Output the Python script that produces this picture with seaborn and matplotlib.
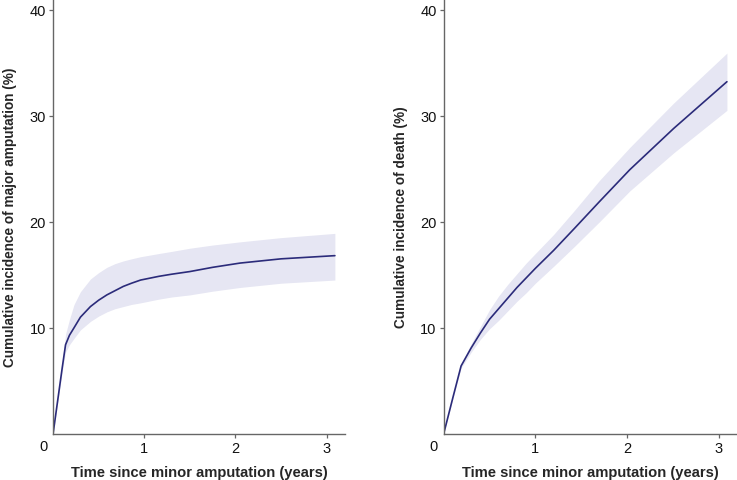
import numpy as np
import pandas as pd
import matplotlib
matplotlib.use('Agg')
import matplotlib.pyplot as plt
import seaborn as sns

# cumulative incidence of major amputation (left panel)
amp_years = [0, 0.05, 0.1, 0.137, 0.18, 0.23, 0.3, 0.41, 0.5, 0.59, 0.68, 0.77, 0.86, 0.96,
	1.16, 1.3, 1.5, 1.75, 2.05, 2.5, 3.09]
amp_est = [0, 3.1, 6.2, 8.4, 9.3, 10.0, 11.0, 12.0, 12.6, 13.1, 13.5, 13.9, 14.2, 14.5,
	14.85, 15.05, 15.3, 15.7, 16.1, 16.5, 16.8]
amp_upper = [0, 3.3, 6.7, 9.4, 10.8, 12.2, 13.4, 14.6, 15.2, 15.7, 16.05, 16.3, 16.5, 16.7,
	17.0, 17.2, 17.5, 17.8, 18.1, 18.5, 18.9]
amp_lower = [0, 2.9, 5.8, 7.7, 8.4, 9.0, 9.8, 10.6, 11.1, 11.5, 11.8, 12.0, 12.2, 12.35,
	12.7, 12.9, 13.1, 13.45, 13.8, 14.2, 14.5]

# cumulative incidence of death (right panel)
death_years = [0, 0.1, 0.19, 0.3, 0.4, 0.5, 0.6, 0.7, 0.8, 0.9, 1.0, 1.2, 1.43, 1.7, 2.03, 2.51, 3.09]
death_est = [0, 3.4, 6.4, 8.1, 9.5, 10.8, 11.8, 12.8, 13.8, 14.7, 15.6, 17.3, 19.4, 21.9, 24.9, 28.8, 33.2]
death_upper = [0, 3.5, 6.6, 8.5, 10.1, 11.7, 13.0, 14.1, 15.1, 16.1, 17.0, 18.8, 21.1, 23.9, 27.0, 31.2, 35.9]
death_lower = [0, 3.3, 6.2, 7.7, 8.9, 9.9, 10.7, 11.6, 12.5, 13.3, 14.2, 15.8, 17.7, 20.0, 22.9, 26.5, 30.5]

x_ticks = [1, 2, 3]
y_ticks = [10, 20, 30, 40]

LINE_COLOR = '#2b2b7a'
BAND_COLOR = '#e6e6f3'
AXIS_COLOR = '#666666'

sns.set_style('ticks')
plt.rcParams['font.family'] = ['Liberation Sans', 'DejaVu Sans']


def draw_panel(ax, years, est, upper, lower, ylabel):
	df = pd.DataFrame({'Years': years, 'Est': est})
	ax.fill_between(years, lower, upper, color=BAND_COLOR, linewidth=0, zorder=1)
	sns.lineplot(data=df, x='Years', y='Est', ax=ax, color=LINE_COLOR, linewidth=1.2, zorder=2)

	ax.set_xlim(0, 3.2)
	ax.set_ylim(0, 41)
	ax.set_xticks(x_ticks)
	ax.set_yticks(y_ticks)
	ax.tick_params(axis='both', direction='out', length=3, width=0.9, color=AXIS_COLOR,
		labelsize=10.5, pad=2, labelcolor='#111111')
	for side in ['top', 'right']:
		ax.spines[side].set_visible(False)
	for side in ['left', 'bottom']:
		ax.spines[side].set_color(AXIS_COLOR)
		ax.spines[side].set_linewidth(1.0)

	ax.annotate('0', xy=(0, 0), xycoords='data', xytext=(-7, -9), textcoords='offset points',
		ha='center', va='center', fontsize=10.5, color='#111111')
	ax.set_xlabel('Time since minor amputation (years)', fontsize=10.6, fontweight='bold', labelpad=7.5)
	ax.set_ylabel(ylabel, fontsize=9.8, fontweight='bold', labelpad=9)


fig = plt.figure(figsize=(7.37, 4.81), dpi=100)
ax1 = fig.add_axes([0.072, 0.096, 0.396, 0.904])
ax2 = fig.add_axes([0.602, 0.096, 0.398, 0.904])

draw_panel(ax1, amp_years, amp_est, amp_upper, amp_lower, 'Cumulative incidence of major amputation (%)')
draw_panel(ax2, death_years, death_est, death_upper, death_lower, 'Cumulative incidence of death (%)')

fig.savefig('out.png', dpi=100)
